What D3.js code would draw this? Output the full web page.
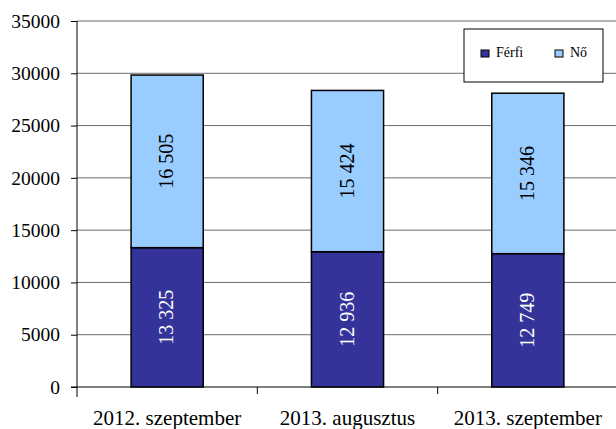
<!DOCTYPE html>
<html>
<head>
<meta charset="utf-8">
<script src="https://cdn.jsdelivr.net/npm/d3@7"></script>
<style>
  body { margin: 0; background: #fff; }
  svg { display: block; }
  svg text { font-family: "Liberation Serif", "Times New Roman", serif; }
</style>
</head>
<body>
<svg id="chart" width="616" height="429"></svg>
<script>
var width = 616
var height = 429

// data
var categories = ["2012. szeptember", "2013. augusztus", "2013. szeptember"]
var ferfi = [13325, 12936, 12749]
var no = [16505, 15424, 15346]
var seriesNames = ["Férfi", "Nő"]
var yTicks = [0, 5000, 10000, 15000, 20000, 25000, 30000, 35000]

var colors = ["#333399", "#99ccff"]
var labelColors = ["#ffffff", "#000000"]

// plot area (note: "top" is reserved on window, so use other names)
// the right edge of the plot runs just past the picture
var plotLeft = 77, plotRight = 618, plotTop = 21, plotBottom = 387

function chart(id) {
  const svg = d3.select("svg#" + id)

  const rows = categories.map((c, i) => ({cat: c, "Férfi": ferfi[i], "Nő": no[i]}))
  const stacked = d3.stack().keys(seriesNames)(rows)

  const x = d3.scaleBand().domain(categories).range([plotLeft, plotRight]).paddingInner(0.6).paddingOuter(0.3)
  const y = d3.scaleLinear().domain([0, 35000]).range([plotBottom, plotTop])
  const fmt = d3.formatLocale({decimal: ",", thousands: " ", grouping: [3], currency: ["", ""]}).format(",d")

  // gridlines
  svg.append("g")
    .selectAll("line")
    .data(yTicks.slice(1))
    .enter().append("line")
      .attr("x1", plotLeft).attr("x2", width)
      .attr("y1", d => y(d)).attr("y2", d => y(d))
      .attr("stroke", "#6b6b6b")
      .attr("stroke-width", 1)

  // y axis
  const yAxis = svg.append("g")
      .attr("transform", `translate(${plotLeft},0)`)
      .call(d3.axisLeft(y).tickValues(yTicks).tickSize(6).tickPadding(11).tickFormat(d3.format("d")))
  yAxis.attr("font-family", null)
  yAxis.select(".domain").attr("d", `M0,${plotTop}V${plotBottom + 10}`).attr("stroke", "#000")
  yAxis.selectAll(".tick line").attr("stroke", "#000")
  yAxis.selectAll("text").attr("font-size", 19.5).attr("fill", "#000")

  // x axis baseline and category ticks
  svg.append("line")
      .attr("x1", plotLeft - 6).attr("x2", width)
      .attr("y1", plotBottom).attr("y2", plotBottom)
      .attr("stroke", "#000")
  const bounds = categories.map((c, i) => plotLeft + i * (plotRight - plotLeft) / categories.length)
  svg.append("g")
    .selectAll("line")
    .data(bounds.slice(1))
    .enter().append("line")
      .attr("x1", d => d).attr("x2", d => d)
      .attr("y1", plotBottom).attr("y2", plotBottom + 7)
      .attr("stroke", "#000")
  svg.append("g")
    .selectAll("text")
    .data(categories)
    .enter().append("text")
      .attr("x", d => x(d) + x.bandwidth() / 2)
      .attr("y", 425)
      .attr("text-anchor", "middle")
      .attr("font-size", 21)
      .text(d => d)

  // bars
  const layer = svg.append("g")
    .selectAll("g")
    .data(stacked)
    .enter().append("g")
      .attr("fill", (d, i) => colors[i])

  layer.selectAll("rect")
    .data(d => d)
    .enter().append("rect")
      .attr("x", d => x(d.data.cat))
      .attr("y", d => y(d[1]))
      .attr("width", x.bandwidth())
      .attr("height", d => y(d[0]) - y(d[1]))
      .attr("stroke", "#000")
      .attr("stroke-width", 1.5)

  // value labels, rotated
  layer.each(function(s, i) {
    d3.select(this).selectAll("text")
      .data(s)
      .enter().append("text")
        .attr("transform", d => `translate(${x(d.data.cat) + x.bandwidth() / 2 + 6},${(y(d[0]) + y(d[1])) / 2}) rotate(-90)`)
        .attr("text-anchor", "middle")
        .attr("font-size", 20)
        .attr("fill", labelColors[i])
        .text(d => fmt(d[1] - d[0]))
  })

  // legend
  const lg = svg.append("g").attr("transform", "translate(464,29)")
  lg.append("rect")
      .attr("width", 139).attr("height", 53)
      .attr("fill", "#fff").attr("stroke", "#000")
  const item = lg.selectAll("g")
    .data(seriesNames)
    .enter().append("g")
      .attr("transform", (d, i) => `translate(${17 + i * 74},21)`)
  item.append("rect")
      .attr("width", 8).attr("height", 7)
      .attr("fill", (d, i) => colors[i])
      .attr("stroke", "#000")
  item.append("text")
      .attr("x", 15).attr("y", 7)
      .attr("font-size", 14)
      .text(d => d)

  return svg.node()
}

chart("chart")
</script>
</body>
</html>
